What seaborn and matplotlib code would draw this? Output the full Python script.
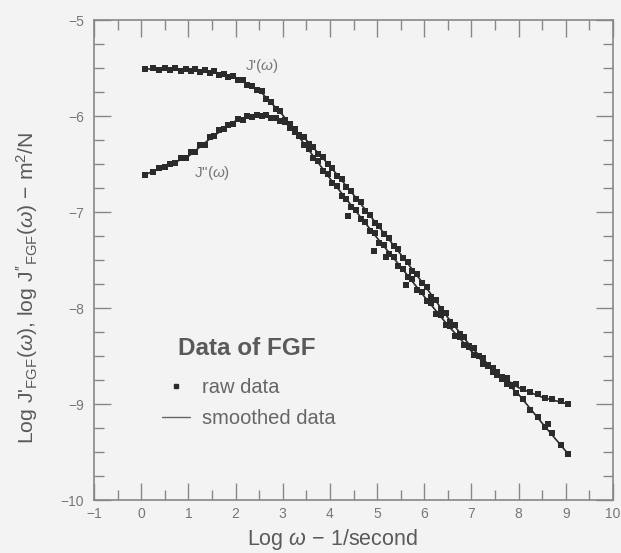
import numpy as np
import pandas as pd
import matplotlib
matplotlib.use("Agg")
import matplotlib.pyplot as plt
import seaborn as sns
from matplotlib.lines import Line2D
from matplotlib.ticker import MultipleLocator

# log frequency (1/second) of the measured points
log_w = [0.08, 0.25, 0.38, 0.5, 0.62, 0.72, 0.85, 0.95, 1.05, 1.15, 1.25, 1.35, 1.45,
         1.55, 1.65, 1.75, 1.85, 1.95, 2.05, 2.15, 2.25, 2.35, 2.45, 2.55, 2.65, 2.75,
         2.85, 2.95, 3.05, 3.15, 3.25, 3.35, 3.45, 3.55, 3.65, 3.75, 3.85, 3.95, 4.05,
         4.15, 4.25, 4.35, 4.45, 4.55, 4.65, 4.75, 4.85, 4.95, 5.05, 5.15, 5.25, 5.35,
         5.45, 5.55, 5.65, 5.75, 5.85, 5.95, 6.05, 6.15, 6.25, 6.35, 6.45, 6.55, 6.65,
         6.75, 6.85, 6.95, 7.05, 7.15, 7.25, 7.35, 7.45, 7.55, 7.65, 7.75, 7.85, 7.95,
         8.1, 8.25, 8.4, 8.55, 8.7, 8.9, 9.05]

# raw data, log J'(w)
j1_raw = [-5.51, -5.50, -5.52, -5.50, -5.52, -5.50, -5.53, -5.51, -5.53, -5.51, -5.54, -5.52,
          -5.55, -5.53, -5.57, -5.56, -5.59, -5.58, -5.62, -5.63, -5.68, -5.69, -5.73, -5.74,
          -5.82, -5.85, -5.93, -5.95, -6.04, -6.08, -6.17, -6.21, -6.30, -6.34, -6.44, -6.47,
          -6.57, -6.60, -6.70, -6.73, -6.83, -6.86, -6.95, -6.98, -7.07, -7.10, -7.20, -7.22,
          -7.32, -7.34, -7.44, -7.47, -7.56, -7.59, -7.68, -7.70, -7.81, -7.83, -7.93, -7.95,
          -8.06, -8.07, -8.18, -8.19, -8.29, -8.30, -8.39, -8.41, -8.49, -8.50, -8.58, -8.59,
          -8.67, -8.67, -8.74, -8.73, -8.80, -8.79, -8.84, -8.87, -8.90, -8.94, -8.95, -8.97,
          -9.00]

# raw data, log J''(w)
j2_raw = [-6.61, -6.58, -6.54, -6.53, -6.50, -6.49, -6.44, -6.44, -6.38, -6.37, -6.30, -6.30,
          -6.22, -6.21, -6.15, -6.14, -6.09, -6.08, -6.03, -6.04, -6.00, -6.01, -5.99, -6.00,
          -5.99, -6.02, -6.02, -6.05, -6.06, -6.12, -6.14, -6.20, -6.22, -6.29, -6.32, -6.40,
          -6.43, -6.50, -6.54, -6.62, -6.66, -6.74, -6.78, -6.86, -6.90, -6.99, -7.03, -7.11,
          -7.15, -7.23, -7.27, -7.35, -7.39, -7.48, -7.52, -7.61, -7.65, -7.74, -7.78, -7.88,
          -7.92, -8.01, -8.05, -8.15, -8.18, -8.27, -8.30, -8.40, -8.42, -8.50, -8.52, -8.60,
          -8.62, -8.70, -8.72, -8.79, -8.81, -8.89, -8.95, -9.06, -9.13, -9.24, -9.30, -9.43,
          -9.52]

# a few stray raw points off the main band
stray_w = [4.39, 4.94, 5.19, 5.61, 8.62]
stray_j = [-7.04, -7.41, -7.47, -7.76, -9.21]

# smoothed curves
log_w_s = [0.08, 0.5, 1.0, 1.5, 2.0, 2.5, 3.0, 3.5, 4.0, 4.5, 5.0, 5.5, 6.0, 6.5, 7.0,
           7.5, 8.0, 8.5, 9.05]
j1_smooth = [-5.51, -5.51, -5.52, -5.54, -5.60, -5.73, -5.99, -6.32, -6.65, -6.96, -7.27,
             -7.57, -7.88, -8.18, -8.45, -8.67, -8.83, -8.93, -9.00]
j2_smooth = [-6.61, -6.53, -6.42, -6.22, -6.05, -5.99, -6.05, -6.25, -6.52, -6.82, -7.13,
             -7.44, -7.76, -8.10, -8.41, -8.66, -8.90, -9.20, -9.52]

raw = pd.DataFrame({
    "w": log_w * 2 + stray_w,
    "J": j1_raw + j2_raw + stray_j,
})
smooth = pd.DataFrame({
    "w": log_w_s * 2,
    "J": j1_smooth + j2_smooth,
    "comp": ["J'"] * len(log_w_s) + ['J"'] * len(log_w_s),
})

bg = "#f3f3f3"
ink = "#2b2b2b"
txt = "#5a5a5a"

sns.set_theme(style="ticks")
plt.rcParams["font.family"] = ["Liberation Sans", "DejaVu Sans"]
plt.rcParams["mathtext.fontset"] = "custom"
plt.rcParams["mathtext.rm"] = "Liberation Sans"
plt.rcParams["mathtext.it"] = "Liberation Sans:italic"

fig = plt.figure(figsize=(6.21, 5.53), dpi=100, facecolor=bg)
ax = fig.add_axes([0.1514, 0.0958, 0.8357, 0.868], facecolor=bg)

sns.lineplot(data=smooth, x="w", y="J", units="comp", estimator=None, color=ink,
             linewidth=1.2, ax=ax, legend=False)
sns.scatterplot(data=raw, x="w", y="J", color=ink, marker="s", s=15, linewidth=0,
                ax=ax, legend=False)

ax.set_xlim(-1, 10)
ax.set_ylim(-10, -5)
ax.xaxis.set_major_locator(MultipleLocator(1))
ax.xaxis.set_minor_locator(MultipleLocator(0.5))
ax.yaxis.set_major_locator(MultipleLocator(1))
ax.yaxis.set_minor_locator(MultipleLocator(0.25))
ax.tick_params(which="both", direction="in", top=True, right=True, colors="#888888",
               labelcolor="#777777", labelsize=10, width=1)
ax.tick_params(which="major", length=12, pad=5)
ax.tick_params(which="minor", length=7)
ax.tick_params(axis="y", which="major", pad=7)
for sp in ax.spines.values():
    sp.set_color("#888888")
    sp.set_linewidth(1.2)

ax.set_xlabel(r"Log $\omega$ $-$ 1/second", fontsize=15.5, color=txt)
ax.xaxis.label.set_va("center")
ax.xaxis.set_label_coords(0.46, -0.083)
ax.set_ylabel(r"Log J'$_{\mathrm{FGF}}$($\omega$), log J"
              r"$''_{\mathrm{FGF}}$($\omega$) $-$ m$^2$/N",
              fontsize=15.2, color=txt)
ax.yaxis.label.set_va("center")
ax.yaxis.set_label_coords(-0.129, 0.442)

ax.text(2.56, -5.48, r"J'($\omega$)", fontsize=11, color="#777777", ha="center", va="center")
ax.text(1.50, -6.59, r'J"($\omega$)', fontsize=11, color="#777777", ha="center", va="center")

ax.text(0.162, 0.315, "Data of FGF", transform=ax.transAxes, fontsize=17.5,
        fontweight="bold", color=txt, ha="left", va="center")
handles = [
    Line2D([], [], color=ink, marker="s", markersize=2.8, linestyle="none"),
    Line2D([], [], color="#666666", linewidth=1),
]
leg = ax.legend(handles, ["raw data", "smoothed data"], loc="center left",
                bbox_to_anchor=(0.131, 0.202), frameon=False, fontsize=14.5,
                handlelength=1.4, handletextpad=0.6, labelspacing=0.6, borderpad=0,
                borderaxespad=0)
for t in leg.get_texts():
    t.set_color("#666666")

fig.savefig("out.png", dpi=100, facecolor=bg)
